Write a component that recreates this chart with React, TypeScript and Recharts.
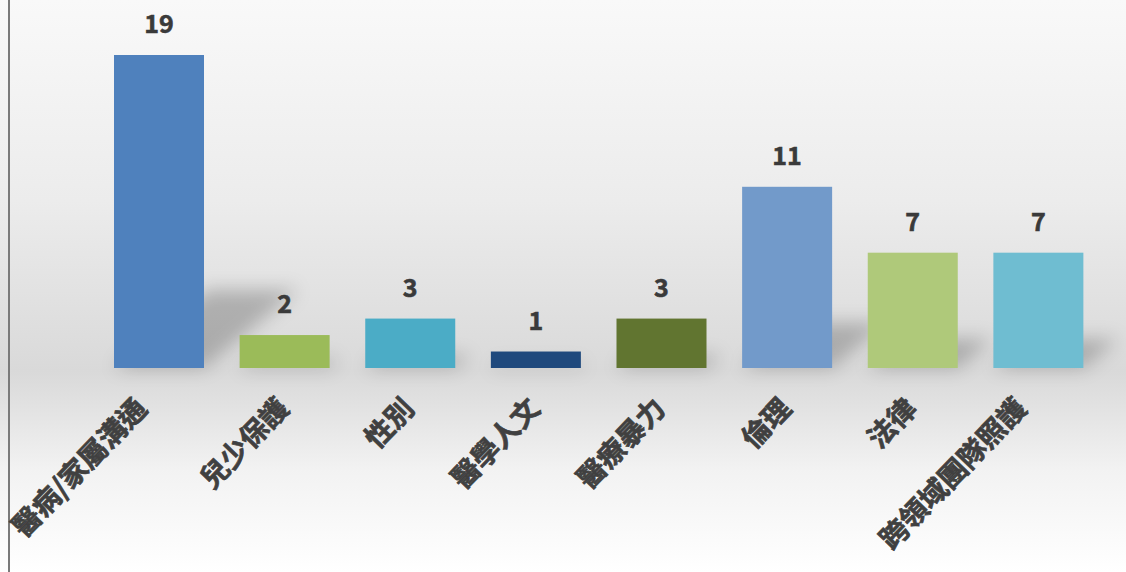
import React from 'react';
import { BarChart, Bar, XAxis, YAxis, Cell, LabelList } from 'recharts';

const categories = ['醫病/家屬溝通', '兒少保護', '性別', '醫學人文', '醫療暴力', '倫理', '法律', '跨領域團隊照護'];
const counts = [19, 2, 3, 1, 3, 11, 7, 7];
const COLORS = ['#4f81bd', '#9bbb59', '#4bacc6', '#1f497d', '#617530', '#729aca', '#afc97a', '#6fbdd1'];

const data = categories.map((name, i) => ({ name, value: counts[i] }));

const FONT = '"Noto Sans CJK TC", "Noto Sans", sans-serif';

function ShadowBar(props: any) {
  const { x, y, width, height, fill } = props;
  if (!height) return null;
  const base = y + height;
  const sh = height * 0.25;
  const dx = height * 0.3;
  const pts = `${x},${base} ${x + width},${base} ${x + width + dx},${base - sh} ${x + dx},${base - sh}`;
  return (
    <g>
      <polygon points={pts} fill="rgba(0,0,0,0.22)" style={{ filter: 'blur(9px)' }} />
      <rect x={x} y={y} width={width} height={height} fill={fill} />
    </g>
  );
}

function CategoryTick(props: any) {
  const { x, payload } = props;
  // long labels get pushed back toward the left a bit, like the original
  const ax = x + (payload.value.length > 5 ? -10 : 6);
  const ay = 410;
  return (
    <text
      x={ax}
      y={ay}
      transform={`rotate(-46, ${ax}, ${ay})`}
      textAnchor="end"
      fontSize={28}
      fontWeight={700}
      fill="#404040"
      stroke="#404040"
      strokeWidth={0.7}
      fontFamily={FONT}
    >
      {payload.value}
    </text>
  );
}

function ValueLabel(props: any) {
  const { x, y, width, value } = props;
  return (
    <text
      x={x + width / 2}
      y={y - 22}
      textAnchor="middle"
      fontSize={25}
      fontWeight={700}
      fill="#3a3a3a"
      stroke="#3a3a3a"
      strokeWidth={0.6}
      fontFamily={FONT}
    >
      {value}
    </text>
  );
}

export default function App() {
  return (
    <div
      style={{
        position: 'fixed',
        left: 0,
        top: 0,
        width: 1126,
        height: 572,
        background: 'linear-gradient(to bottom, #f9f9f9 0%, #ececec 35%, #d9d9d9 65%, #f2f2f2 82%, #ffffff 100%)',
        overflow: 'hidden',
      }}
    >
      <div style={{ position: 'absolute', left: 8, top: 0, width: 2, height: 572, background: '#7a7a7a' }} />
      <BarChart
        width={1126}
        height={572}
        data={data}
        margin={{ top: 55, right: 25, bottom: 14, left: 96 }}
        barCategoryGap={18}
      >
        <XAxis dataKey="name" axisLine={false} tickLine={false} height={190} interval={0} tick={<CategoryTick />} />
        <YAxis hide domain={[0, 19]} />
        <Bar dataKey="value" isAnimationActive={false} shape={<ShadowBar />}>
          {data.map((d, i) => (
            <Cell key={d.name} fill={COLORS[i]} />
          ))}
          <LabelList dataKey="value" content={<ValueLabel />} />
        </Bar>
      </BarChart>
    </div>
  );
}
